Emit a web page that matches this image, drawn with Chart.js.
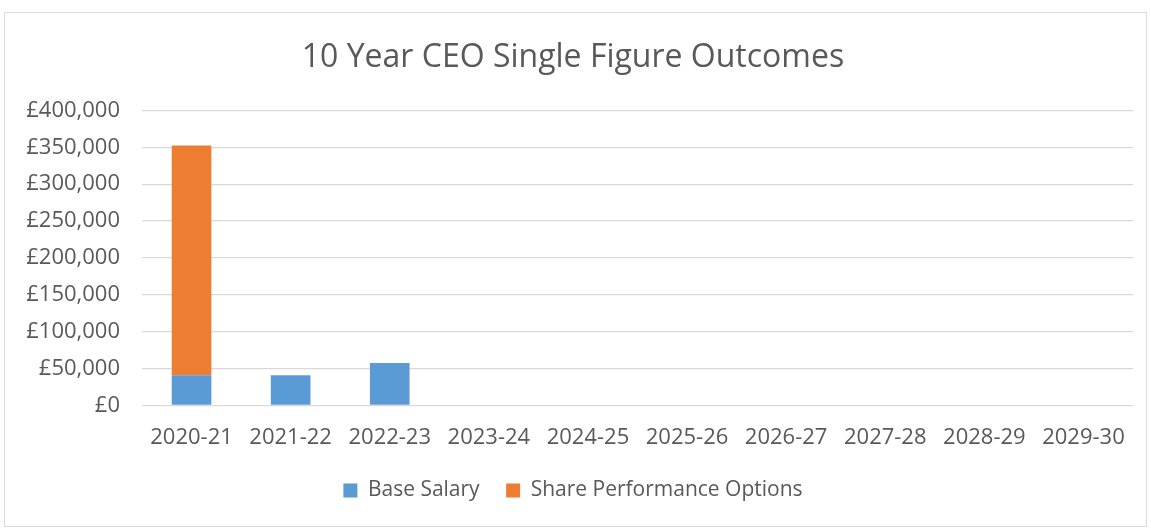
<!DOCTYPE html>
<html>
<head>
<meta charset="utf-8">
<script src="https://cdn.jsdelivr.net/npm/chart.js@4"></script>
<style>
  body { margin: 0; background: #fff; }
  #caixa { position: absolute; left: 4px; top: 12px; width: 1141px; height: 513px; border: 1px solid #d9d9d9; }
</style>
</head>
<body>
<div id="caixa"><canvas id="grafico" width="1141" height="513"></canvas></div>
<script>
// dados
var anos = ['2020-21', '2021-22', '2022-23', '2023-24', '2024-25', '2025-26', '2026-27', '2027-28', '2028-29', '2029-30']
var salario_base = [41000, 41000, 57500, null, null, null, null, null, null, null]
var opcoes_acoes = [311500, null, null, null, null, null, null, null, null, null]
var ticks_y = [0, 50000, 100000, 150000, 200000, 250000, 300000, 350000, 400000]

var cinza = '#595959'
var fonte = "'Open Sans', sans-serif"

const ctx = document.getElementById('grafico').getContext('2d')
const grafico = new Chart(ctx, {
  type: 'bar',
  data: {
    labels: anos,
    datasets: [{
      label: 'Base Salary',
      data: salario_base,
      backgroundColor: '#5b9bd5',
      barPercentage: 0.4,
      categoryPercentage: 1
    }, {
      label: 'Share Performance Options',
      data: opcoes_acoes,
      backgroundColor: '#ed7d31',
      barPercentage: 0.4,
      categoryPercentage: 1
    }]
  },
  options: {
    responsive: false,
    animation: false,
    layout: { padding: { left: 8, right: 13, top: 0, bottom: 15 } },
    plugins: {
      title: {
        display: true,
        text: '10 Year CEO Single Figure Outcomes',
        color: cinza,
        font: { family: fonte, size: 32, weight: 'normal' },
        padding: { top: 26, bottom: 33 }
      },
      legend: {
        position: 'bottom',
        labels: {
          color: cinza,
          font: { family: fonte, size: 21 },
          boxWidth: 14,
          boxHeight: 14,
          padding: 26.5
        }
      },
      tooltip: { enabled: false }
    },
    scales: {
      x: {
        stacked: true,
        grid: { display: false, drawTicks: false },
        border: { display: false },
        ticks: { color: cinza, font: { family: fonte, size: 22 }, padding: 19, maxRotation: 0 },
        afterFit: function (escala) { escala.height = 48 }
      },
      y: {
        stacked: true,
        min: 0,
        max: 400000,
        afterBuildTicks: function (escala) { escala.ticks = ticks_y.map(v => ({ value: v })) },
        grid: { color: '#d9d9d9', lineWidth: 1.3, drawTicks: false },
        border: { display: false },
        ticks: {
          color: cinza,
          font: { family: fonte, size: 22 },
          padding: 22,
          callback: function (v) { return '£' + v.toLocaleString('en-GB') }
        },
        afterFit: function (escala) { escala.width = 129 }
      }
    }
  }
})
</script>
</body>
</html>
